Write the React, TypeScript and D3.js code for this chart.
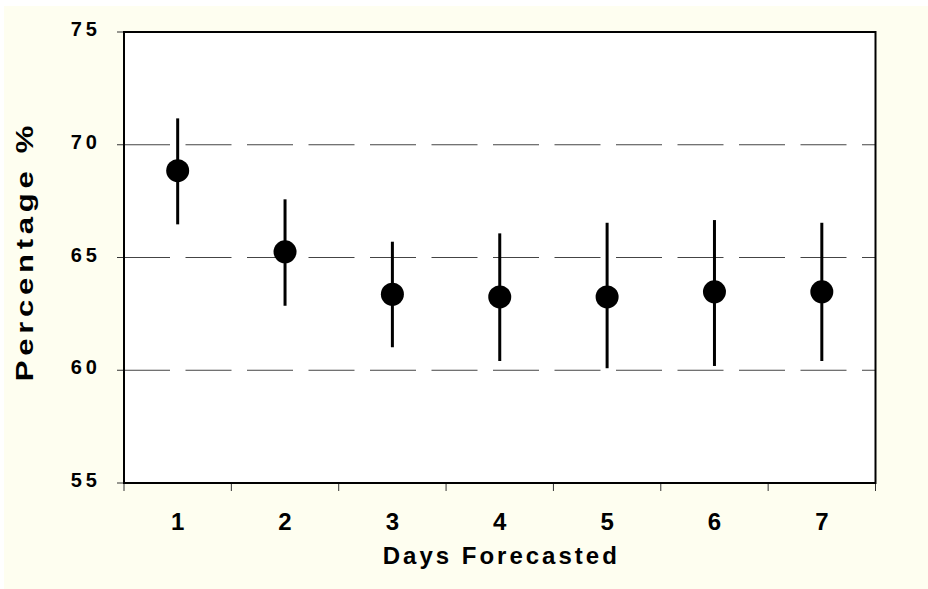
import React, { useEffect, useRef } from 'react';
import * as d3 from 'd3';

// Days forecasted vs percentage, mean with min/max range
const days = ['1', '2', '3', '4', '5', '6', '7'];
const meanValues = [68.85, 65.25, 63.37, 63.25, 63.25, 63.48, 63.48];
const upperValues = [71.17, 67.58, 65.7, 66.07, 66.54, 66.66, 66.54];
const lowerValues = [66.47, 62.86, 61.02, 60.41, 60.09, 60.19, 60.41];
const yTicks = [55, 60, 65, 70, 75];
const gridValues = [60, 65, 70];

const width = 928;
const height = 589;
const margin = { top: 32, right: 52.5, bottom: 106, left: 124 };
const font = "Arial, 'Liberation Sans', sans-serif";

export default function App() {
  const ref = useRef<SVGSVGElement>(null);

  useEffect(() => {
    const svg = d3.select(ref.current);
    svg.selectAll('*').remove();

    const x = d3.scaleBand().domain(days).range([margin.left, width - margin.right]);
    const y = d3.scaleLinear().domain([55, 75]).range([height - margin.bottom, margin.top]);

    // background
    svg.append('rect').attr('x', 0).attr('y', 0).attr('width', width).attr('height', height).attr('fill', '#ffffff');
    svg.append('rect').attr('x', 4).attr('y', 6).attr('width', width - 4).attr('height', height - 6).attr('fill', '#fefef0');
    svg.append('rect')
      .attr('x', margin.left).attr('y', margin.top)
      .attr('width', width - margin.left - margin.right)
      .attr('height', height - margin.top - margin.bottom)
      .attr('fill', '#ffffff');

    // dashed grid lines
    svg.append('g').selectAll('line').data(gridValues).enter().append('line')
      .attr('x1', margin.left).attr('x2', width - margin.right)
      .attr('y1', d => y(d)).attr('y2', d => y(d))
      .attr('stroke', '#444').attr('stroke-width', 1)
      .attr('stroke-dasharray', '46,15.5');

    // y axis ticks + labels
    const yAxis = svg.append('g');
    yAxis.selectAll('line').data(yTicks).enter().append('line')
      .attr('x1', margin.left - 7).attr('x2', margin.left)
      .attr('y1', d => y(d)).attr('y2', d => y(d))
      .attr('stroke', '#333').attr('stroke-width', 1);
    yAxis.selectAll('text').data(yTicks).enter().append('text')
      .attr('x', 101).attr('y', d => y(d) + 4)
      .attr('text-anchor', 'end')
      .style('font-family', font).style('font-weight', 'bold').style('font-size', '20px')
      .style('letter-spacing', '4px')
      .text(d => d);

    // x axis ticks at category boundaries
    const bounds = days.map(d => x(d) as number).concat([width - margin.right]);
    svg.append('g').selectAll('line').data(bounds).enter().append('line')
      .attr('x1', d => d).attr('x2', d => d)
      .attr('y1', height - margin.bottom).attr('y2', height - margin.bottom + 8)
      .attr('stroke', '#333').attr('stroke-width', 1);
    svg.append('g').selectAll('text').data(days).enter().append('text')
      .attr('x', d => (x(d) as number) + x.bandwidth() / 2)
      .attr('y', 530)
      .attr('text-anchor', 'middle')
      .style('font-family', font).style('font-weight', 'bold').style('font-size', '24px')
      .text(d => d);

    // plot frame
    svg.append('rect')
      .attr('x', margin.left).attr('y', margin.top)
      .attr('width', width - margin.left - margin.right)
      .attr('height', height - margin.top - margin.bottom)
      .attr('fill', 'none').attr('stroke', '#000').attr('stroke-width', 2);

    // error bars
    const cx = (i: number) => (x(days[i]) as number) + x.bandwidth() / 2;
    svg.append('g').selectAll('line').data(days).enter().append('line')
      .attr('x1', (d, i) => cx(i)).attr('x2', (d, i) => cx(i))
      .attr('y1', (d, i) => y(upperValues[i])).attr('y2', (d, i) => y(lowerValues[i]))
      .attr('stroke', '#000').attr('stroke-width', 3);

    // means
    svg.append('g').selectAll('circle').data(days).enter().append('circle')
      .attr('cx', (d, i) => cx(i)).attr('cy', (d, i) => y(meanValues[i]))
      .attr('r', 11.5).attr('fill', '#000');

    // axis titles
    svg.append('text')
      .attr('x', (margin.left + width - margin.right) / 2 + 1.5).attr('y', 564)
      .attr('text-anchor', 'middle')
      .style('font-family', font).style('font-weight', 'bold').style('font-size', '24px')
      .style('letter-spacing', '3px')
      .text('Days Forecasted');
    svg.append('text')
      .attr('transform', 'translate(33,251) rotate(-90) scale(1.35,1)')
      .attr('text-anchor', 'middle')
      .style('font-family', font).style('font-weight', 'bold').style('font-size', '23px')
      .style('letter-spacing', '3.5px')
      .text('Percentage %');
  }, []);

  return (
    <svg ref={ref} width={width} height={height}
      style={{ position: 'absolute', left: 0, top: 0, display: 'block' }} />
  );
}
